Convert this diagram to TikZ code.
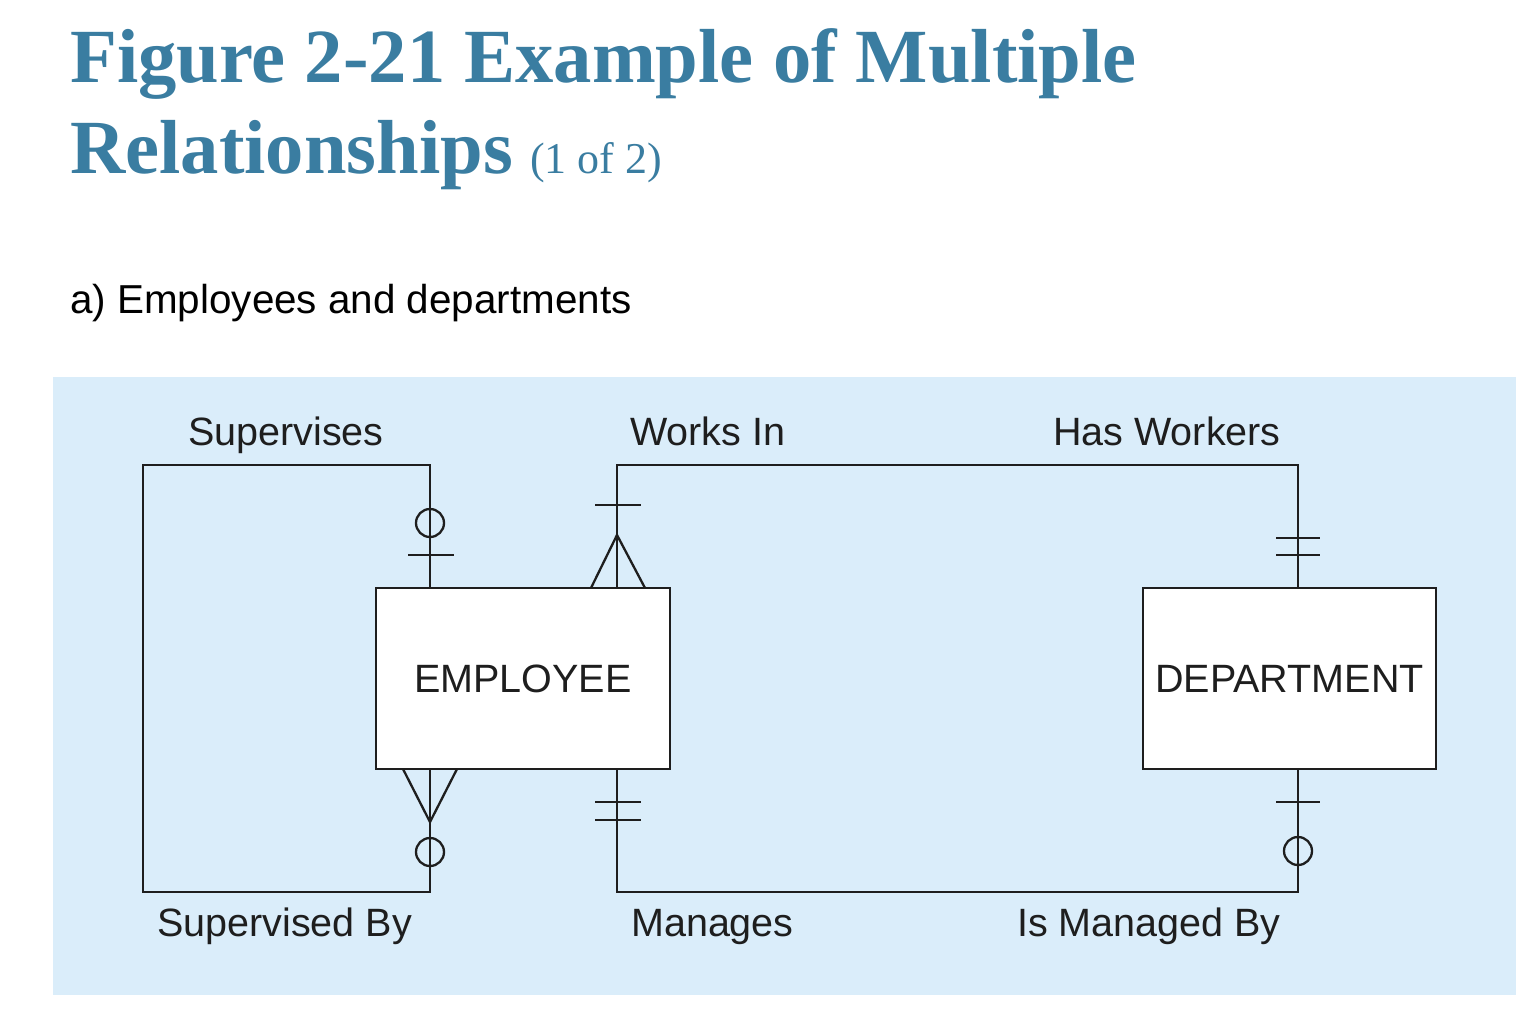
\documentclass[tikz,border=0pt]{standalone}
\usepackage{fontspec}
\setmainfont{Liberation Serif}
\newfontfamily\diagfont{Liberation Sans}
\definecolor{titleblue}{RGB}{58,125,161}
\definecolor{panelblue}{RGB}{218,237,250}
\definecolor{ink}{RGB}{30,30,30}
\tikzset{
  conn/.style={draw=ink, line width=2.3pt, line join=miter},
  entity/.style={draw=ink, line width=2.3pt, fill=white, inner sep=0pt,
    font=\diagfont\fontsize{39.5}{44}\selectfont, text=ink},
  rlabel/.style={font=\diagfont\fontsize{39.5}{44}\selectfont, text=ink, inner sep=0pt, anchor=base west},
  ring/.style={draw=ink, line width=2.3pt, fill=none},
}
\begin{document}
\begin{tikzpicture}[x=1pt,y=-1pt]
\useasboundingbox (0,0) rectangle (1532,1028);
% title
\node[anchor=base west, inner sep=0pt, text=titleblue, font=\bfseries\fontsize{76.6}{80}\selectfont] (t1) at (70,82) {Figure 2-21 Example of Multiple};
\node[anchor=base west, inner sep=0pt, text=titleblue, font=\bfseries\fontsize{76.6}{80}\selectfont] (t2) at (70,173) {Relationships};
\node[anchor=base west, inner sep=0pt, text=titleblue, font=\fontsize{44}{48}\selectfont] (t3) at (530,173) {(1 of 2)};
\node[anchor=base west, inner sep=0pt, font=\diagfont\fontsize{40.4}{44}\selectfont] (sub) at (70,313) {a) Employees and departments};
% panel
\fill[panelblue] (53,377) rectangle (1516,995);
% entities
\node[entity, minimum width=294pt, minimum height=181pt] (emp) at (523,678.5) {EMPLOYEE};
\node[entity, minimum width=293pt, minimum height=181pt] (dept) at (1289.5,678.5) {DEPARTMENT};
\coordinate (sx) at (430,0);
\coordinate (wx) at (617,0);
\coordinate (dx) at (1298,0);
% Supervises / Supervised By loop
\draw[conn] (sx |- emp.north) -- (430,465) -- (143,465) -- (143,892) -- (430,892) -- (sx |- emp.south);
% Works In / Has Workers
\draw[conn] (wx |- emp.north) -- (617,465) -- (1298,465) -- (dx |- dept.north);
% Manages / Is Managed By
\draw[conn] (wx |- emp.south) -- (617,892) -- (1298,892) -- (dx |- dept.south);
% symbols: top of EMPLOYEE (supervises side)
\draw[ring] (430,523) circle (14);
\draw[conn] (408,555) -- (454,555);
% Works In end at EMPLOYEE
\draw[conn] (595,505) -- (641,505);
\draw[conn] (591,588) -- (617,535) -- (645,588);
% DEPARTMENT top
\draw[conn] (1276,538) -- (1320,538);
\draw[conn] (1276,555) -- (1320,555);
% EMPLOYEE bottom (supervised by)
\draw[conn] (403,769) -- (430,822) -- (457,769);
\draw[ring] (430,852) circle (14);
% Manages at EMPLOYEE bottom
\draw[conn] (595,802) -- (641,802);
\draw[conn] (595,820) -- (641,820);
% DEPARTMENT bottom
\draw[conn] (1276,802) -- (1320,802);
\draw[ring] (1298,851) circle (14);
% labels
\node[rlabel] (l1) at (188,445) {Supervises};
\node[rlabel] (l2) at (630,445) {Works In};
\node[rlabel] (l3) at (1053,445) {Has Workers};
\node[rlabel] (l4) at (157,936) {Supervised By};
\node[rlabel] (l5) at (631,936) {Manages};
\node[rlabel] (l6) at (1017,936) {Is Managed By};
\end{tikzpicture}
\end{document}
